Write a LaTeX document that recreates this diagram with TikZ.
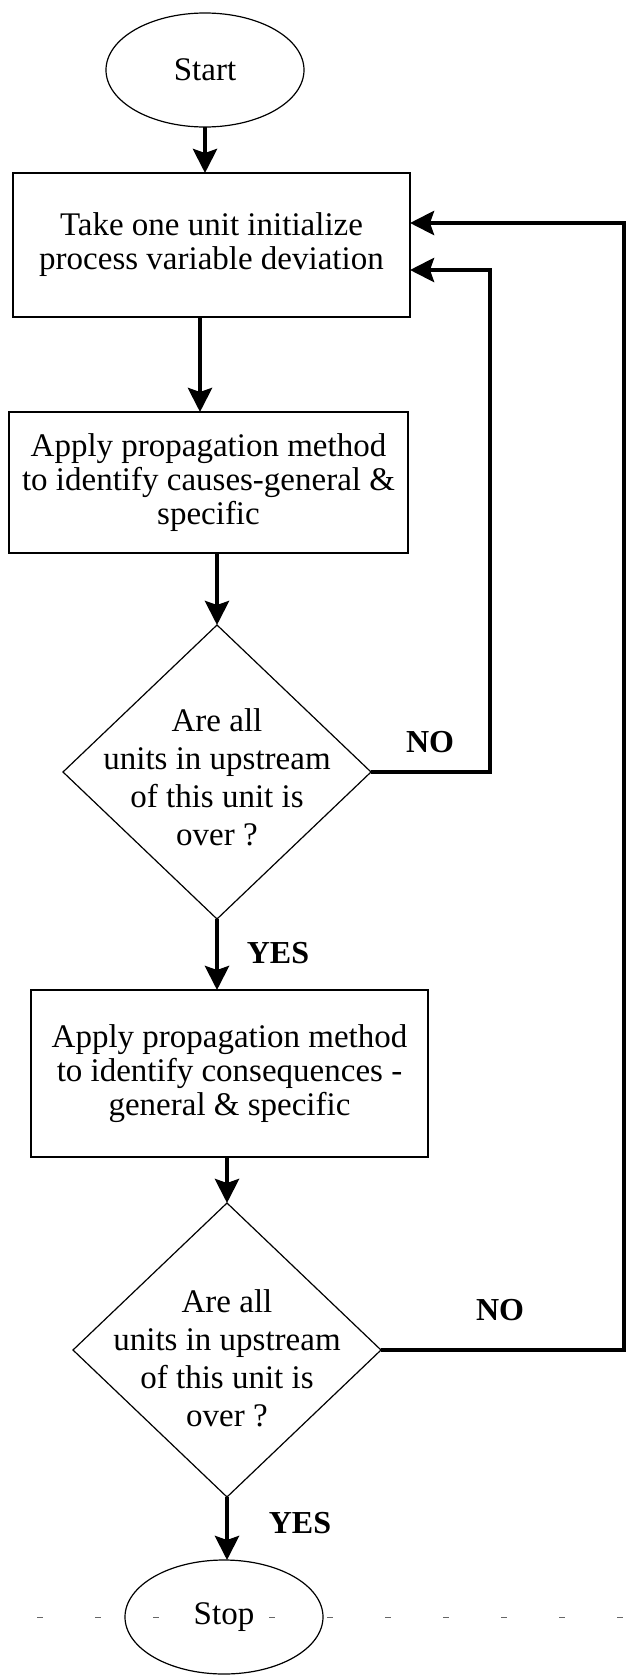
\documentclass[tikz,border=0pt]{standalone}
\usepackage{fontspec}
\setmainfont{Liberation Serif}
\usetikzlibrary{shapes.geometric,arrows.meta}
\tikzset{
  every node/.style={inner sep=0pt, outer sep=0pt},
  procbox/.style={draw, line width=1.2pt, rectangle, align=center,
    font=\fontsize{33}{34}\selectfont},
  terminal/.style={draw, line width=1.2pt, ellipse, minimum width=198pt,
    minimum height=114pt, font=\fontsize{33}{34}\selectfont},
  decision/.style={draw, line width=1.2pt, diamond, minimum width=308pt,
    minimum height=294pt},
  dtext/.style={align=center, font=\fontsize{33}{38}\selectfont},
  answer/.style={font=\fontsize{32}{34}\selectfont\bfseries},
  flow/.style={line width=4.5pt, -{Stealth[length=24pt,width=24pt,inset=4pt]}},
  dashrule/.style={black!60, line width=1pt, dash pattern=on 6pt off 52pt},
}
\begin{document}
\begin{tikzpicture}[x=1pt,y=-1pt]
\useasboundingbox (0,0) rectangle (628,1676);

% flowchart nodes
\node[terminal] (start) at (205,70) {Start};
\node[procbox, minimum width=397pt, minimum height=144pt] (b1) at (211.5,245)
  {Take one unit initialize\\process variable deviation};
\node[procbox, minimum width=399pt, minimum height=141pt] (b2) at (208.5,482.5)
  {Apply propagation method\\to identify causes-general \&\\specific};
\node[decision] (d1) at (217,772) {};
\node[dtext] (d1t) at (217,777) {Are all\\units in upstream\\of this unit is\\over ?};
\node[procbox, minimum width=397pt, minimum height=167pt] (b3) at (229.5,1073.5)
  {Apply propagation method\\to identify consequences -\\general \& specific};
\node[decision] (d2) at (227,1350) {};
\node[dtext] (d2t) at (227,1358) {Are all\\units in upstream\\of this unit is\\over ?};

% dashed rule across the foot of the page
\draw[dashrule] (37,1617) -- (160,1617);
\draw[dashrule] (269,1617) -- (628,1617);

\node[terminal] (stop) at (224,1617) {Stop};

% branch labels
\node[answer] (no1) at (430,742) {NO};
\node[answer] (yes1) at (278,953) {YES};
\node[answer] (no2) at (500,1310) {NO};
\node[answer] (yes2) at (300,1523) {YES};

% main flow
\draw[flow] (start.south) -- (start.south |- b1.north);
\coordinate (a12) at ([xshift=-11.5pt]b1.south);
\draw[flow] (a12) -- (a12 |- b2.north);
\draw[flow] (b2.south -| d1.north) -- (d1.north);
\draw[flow] (d1.south) -- (d1.south |- b3.north);
\draw[flow] (b3.south -| d2.north) -- (d2.north);
\draw[flow] (d2.south) -- (d2.south |- stop.north);

% feedback loops
\coordinate (k1) at (490,270);
\draw[flow] (d1.east) -| (k1) -- (k1 -| b1.east);
\coordinate (k2) at (624,223);
\draw[flow] (d2.east) -| (k2) -- (k2 -| b1.east);
\end{tikzpicture}
\end{document}
